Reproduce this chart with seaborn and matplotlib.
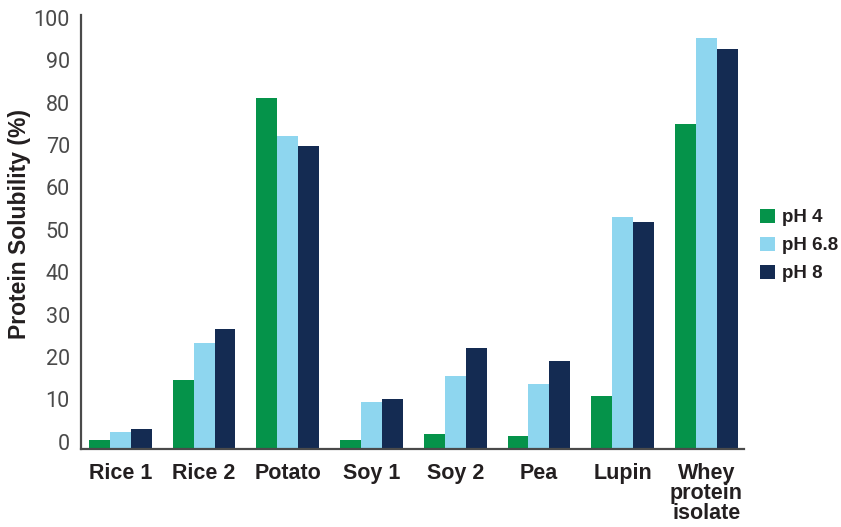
import numpy as np
import pandas as pd
import seaborn as sns
import matplotlib.pyplot as plt
from matplotlib.transforms import ScaledTranslation

# values (protein solubility, %)
proteins = ["Rice 1", "Rice 2", "Potato", "Soy 1", "Soy 2", "Pea", "Lupin", "Whey\nprotein\nisolate"]
ph_levels = ["pH 4", "pH 6.8", "pH 8"]
ph4 = [2.1, 16.3, 82.8, 2.1, 3.5, 3.1, 12.5, 76.7]
ph68 = [4.1, 25.1, 73.9, 11.1, 17.2, 15.3, 54.8, 97.0]
ph8 = [4.7, 28.3, 71.5, 11.8, 23.8, 20.8, 53.6, 94.4]
colors = ["#05934A", "#8ED6EF", "#142B52"]

df = pd.DataFrame({
    "protein": proteins * 3,
    "ph": np.repeat(ph_levels, len(proteins)),
    "solubility": ph4 + ph68 + ph8,
})

sns.set_style("white")
plt.rcParams["font.family"] = ["Liberation Sans", "DejaVu Sans"]

fig = plt.figure(figsize=(8.41, 5.27), dpi=100)
ax = fig.add_axes([81 / 841, 78 / 527, 663 / 841, 434 / 527])

sns.barplot(data=df, x="protein", y="solubility", hue="ph", order=proteins,
            hue_order=ph_levels, palette=colors, saturation=1, width=0.75,
            errorbar=None, linewidth=0, ax=ax)

ax.set_xlim(-0.47, 7.45)
ax.set_ylim(0, 102.4)
ax.set_yticks(np.arange(0, 101, 10))
ax.tick_params(axis="both", length=0)
ax.tick_params(axis="y", pad=8)
ax.tick_params(axis="x", pad=10)

# y tick labels sit a little above the bar baseline in the original
shift = ScaledTranslation(0, 7.3 / 100, fig.dpi_scale_trans)
for lab in ax.get_yticklabels():
    lab.set_fontfamily("Roboto")
    lab.set_fontweight("normal")
    lab.set_fontsize(15.5)
    lab.set_color("#4a4a4a")
    lab.set_transform(lab.get_transform() + shift)

for lab in ax.get_xticklabels():
    lab.set_fontweight("bold")
    lab.set_fontsize(15.5)
    lab.set_color("#231f20")
    lab.set_linespacing(0.95)

ax.set_xlabel("")
ax.set_ylabel("Protein Solubility (%)", fontsize=16.5, fontweight="bold", color="#231f20")
ax.yaxis.set_label_coords(-(81 - 31) / 663, (449 - 224) / 434)

sns.despine(ax=ax)
for side in ["left", "bottom"]:
    ax.spines[side].set_color("#4a4a4a")
    ax.spines[side].set_linewidth(1.6)

ax.legend_.remove()
handles, labels = ax.get_legend_handles_labels()
fig.legend(handles, labels, loc="center left", bbox_to_anchor=(760 / 841, 1 - 245.5 / 527),
           frameon=False, handlelength=0.78, handleheight=0.78, handletextpad=0.4,
           labelspacing=0.55, borderpad=0, borderaxespad=0,
           prop={"weight": "bold", "size": 13.5})
for t in fig.legends[0].get_texts():
    t.set_color("#231f20")

fig.savefig("out.png", dpi=100)
